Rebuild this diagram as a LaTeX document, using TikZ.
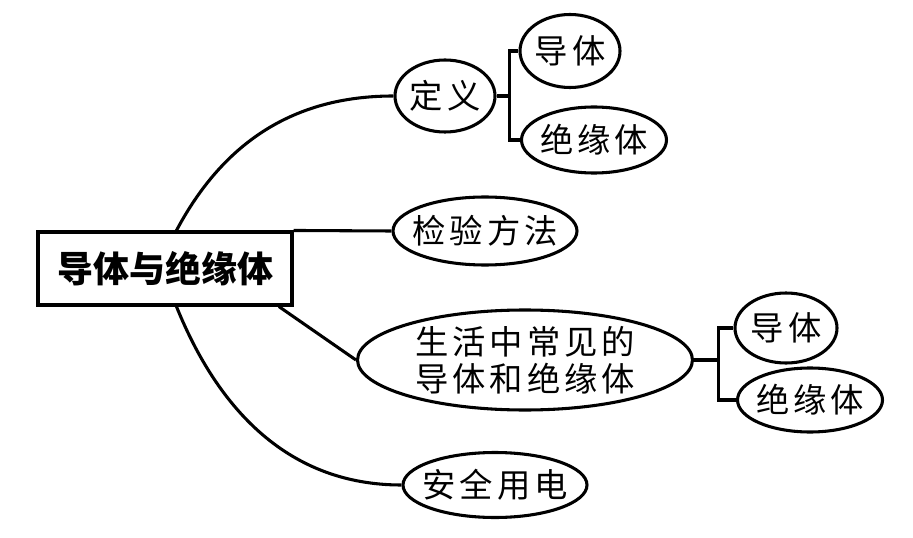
\documentclass[tikz,border=0pt]{standalone}
\usepackage{fontspec}
\setmainfont{Noto Sans CJK SC}
\newfontfamily\bubfont[LetterSpace=12]{Noto Sans CJK SC}
\usetikzlibrary{shapes.geometric}
\tikzset{
  bub/.style={ellipse, draw, line width=2.3pt, inner sep=-40pt, font=\bubfont\fontsize{25}{28}\selectfont},
  topic/.style={rectangle, draw, line width=2.3pt, font=\fontsize{27}{30}\selectfont\bfseries}
}
\begin{document}
\begin{tikzpicture}[x=0.75pt, y=-0.75pt, line width=2.3pt]
      \useasboundingbox (0,0) rectangle (913,538);
      \draw
        (165,268.5) node[topic, minimum width=190.5pt, minimum height=54.75pt] (main){导体与绝缘体}
        (445,96) node[bub, minimum width=75pt, minimum height=54pt] (dingyi){定义}
        (570,51) node[bub, minimum width=75pt, minimum height=54.75pt] (daoti1){导体}
        (594,140) node[bub, minimum width=108.75pt, minimum height=49.5pt] (jueyuan1){绝缘体}
        (485,231) node[bub, minimum width=138pt, minimum height=51pt] (jianyan){检验方法}
        (525,360) node[bub, align=center, minimum width=251.25pt, minimum height=75pt] (shenghuo){生活中常见的\\导体和绝缘体}
        (786,328) node[bub, minimum width=76.5pt, minimum height=52.5pt] (daoti2){导体}
        (810,400) node[bub, minimum width=108.75pt, minimum height=48pt] (jueyuan2){绝缘体}
        (495,485) node[bub, minimum width=138pt, minimum height=48.75pt] (anquan){安全用电};
      \begin{scope}[-]
        \draw ([xshift=105pt]main.north west) to[out=62, in=180] (dingyi.west);
        \draw (main.north east) -- (jianyan.west);
        \draw ([xshift=-11pt]main.south east) -- (shenghuo.west);
        \draw ([xshift=105pt]main.south west) to[out=-68, in=180] (anquan.west);
        \draw (dingyi.east) -- ++(13,0) coordinate (b1);
        \draw (daoti1.west) -| (b1) |- (jueyuan1.west);
        \draw (shenghuo.east) -- ++(24,0) coordinate (b2);
        \draw (daoti2.west) -| (b2) |- (jueyuan2.west);
      \end{scope}
    \end{tikzpicture}
\end{document}
